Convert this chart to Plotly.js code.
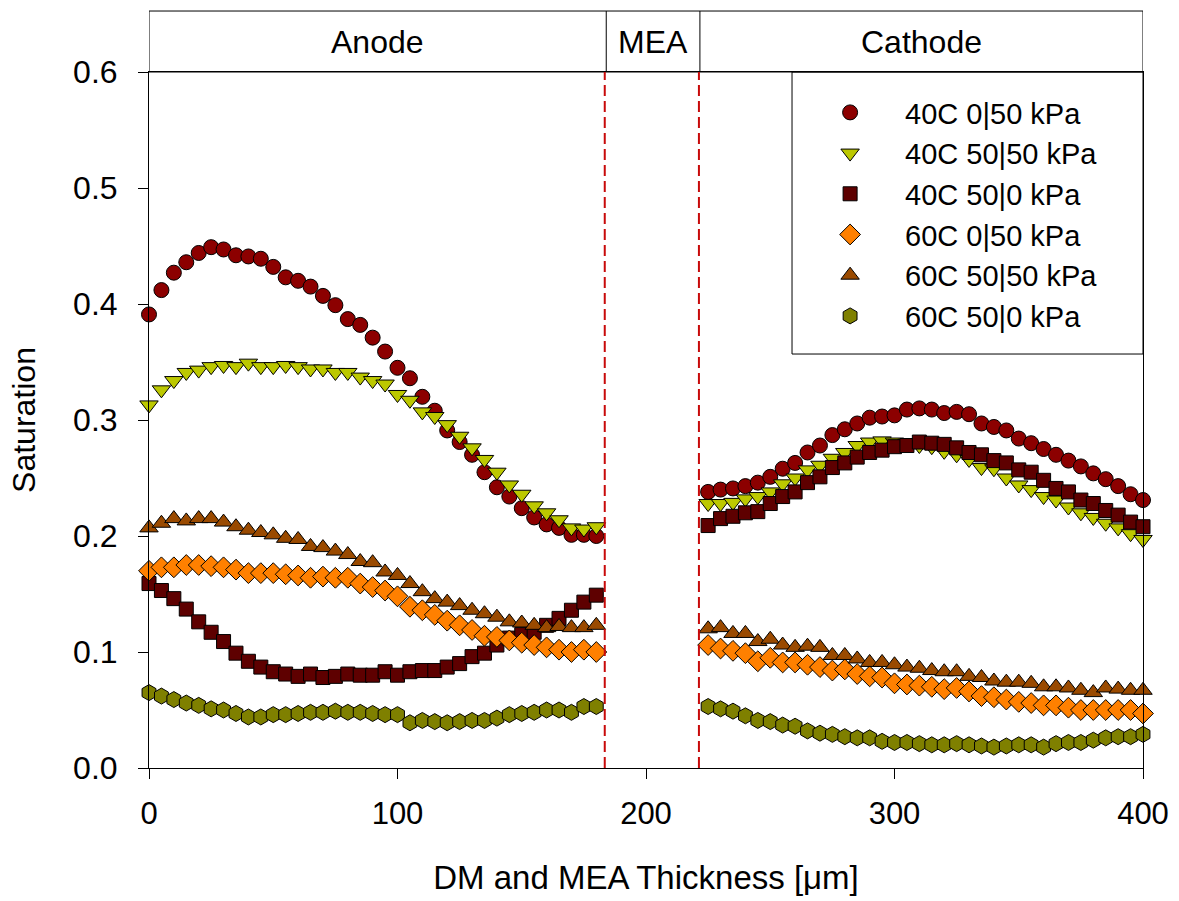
<!DOCTYPE html>
<html>
<head>
<meta charset="utf-8">
<script src="https://cdn.plot.ly/plotly-3.0.1.min.js"></script>
<style>html,body{margin:0;padding:0;background:#fff;}#chart{width:1179px;height:901px;}</style>
</head>
<body>
<div id="chart"></div>
<script>
// ---- data ----
const anodeX = [0,5,10,15,20,25,30,35,40,45,50,55,60,65,70,75,80,85,90,95,100,105,110,115,120,125,130,135,140,145,150,155,160,165,170,175,180];
const cathodeX = [225,230,235,240,245,250,255,260,265,270,275,280,285,290,295,300,305,310,315,320,325,330,335,340,345,350,355,360,365,370,375,380,385,390,395,400];

const seriesNames = ["40C 0|50 kPa","40C 50|50 kPa","40C 50|0 kPa","60C 0|50 kPa","60C 50|50 kPa","60C 50|0 kPa"];

const s40_0_50_anode = [0.391,0.412,0.427,0.436,0.444,0.449,0.447,0.442,0.441,0.439,0.432,0.423,0.420,0.415,0.407,0.399,0.387,0.382,0.371,0.359,0.345,0.336,0.320,0.308,0.291,0.281,0.270,0.255,0.242,0.234,0.224,0.216,0.210,0.207,0.201,0.201,0.200];
const s40_0_50_cathode = [0.238,0.240,0.241,0.243,0.246,0.251,0.258,0.263,0.272,0.278,0.287,0.292,0.297,0.302,0.303,0.304,0.309,0.310,0.309,0.306,0.307,0.305,0.297,0.294,0.291,0.284,0.280,0.275,0.270,0.265,0.260,0.254,0.249,0.243,0.236,0.231];

const s40_50_50_anode = [0.313,0.326,0.334,0.341,0.343,0.346,0.347,0.346,0.349,0.346,0.346,0.347,0.346,0.344,0.344,0.341,0.341,0.337,0.334,0.331,0.322,0.317,0.307,0.303,0.296,0.286,0.276,0.266,0.255,0.244,0.236,0.226,0.220,0.214,0.207,0.206,0.208];
const s40_50_50_cathode = [0.228,0.228,0.229,0.232,0.234,0.238,0.245,0.250,0.257,0.261,0.267,0.272,0.278,0.281,0.282,0.281,0.280,0.278,0.277,0.273,0.270,0.266,0.259,0.258,0.250,0.244,0.240,0.234,0.231,0.225,0.220,0.216,0.211,0.207,0.202,0.197];

const s40_50_0_anode = [0.159,0.153,0.146,0.137,0.126,0.117,0.109,0.099,0.092,0.087,0.083,0.081,0.079,0.081,0.078,0.079,0.081,0.080,0.080,0.083,0.080,0.083,0.084,0.084,0.087,0.090,0.096,0.099,0.106,0.112,0.115,0.117,0.123,0.129,0.136,0.143,0.149];
const s40_50_0_cathode = [0.209,0.215,0.217,0.220,0.221,0.228,0.234,0.238,0.246,0.251,0.259,0.263,0.268,0.272,0.274,0.277,0.278,0.281,0.280,0.279,0.276,0.272,0.270,0.265,0.263,0.257,0.255,0.248,0.241,0.238,0.231,0.228,0.222,0.218,0.212,0.208];

const s60_0_50_anode = [0.170,0.173,0.173,0.175,0.175,0.174,0.173,0.171,0.168,0.168,0.168,0.167,0.166,0.164,0.165,0.164,0.164,0.159,0.156,0.153,0.148,0.139,0.136,0.132,0.127,0.123,0.119,0.114,0.113,0.110,0.108,0.106,0.104,0.102,0.100,0.102,0.100];
const s60_0_50_cathode = [0.106,0.103,0.101,0.099,0.092,0.095,0.091,0.091,0.089,0.087,0.084,0.085,0.081,0.079,0.078,0.073,0.072,0.071,0.070,0.068,0.069,0.066,0.062,0.061,0.059,0.057,0.056,0.054,0.054,0.052,0.050,0.050,0.050,0.050,0.050,0.047];

const s60_50_50_anode = [0.207,0.211,0.215,0.213,0.215,0.215,0.212,0.208,0.205,0.203,0.201,0.198,0.197,0.191,0.190,0.187,0.184,0.178,0.177,0.169,0.166,0.159,0.152,0.146,0.143,0.140,0.136,0.133,0.130,0.126,0.125,0.123,0.121,0.122,0.121,0.121,0.123];
const s60_50_50_cathode = [0.120,0.121,0.116,0.116,0.109,0.111,0.106,0.104,0.105,0.104,0.097,0.097,0.094,0.091,0.091,0.089,0.087,0.086,0.084,0.083,0.083,0.079,0.078,0.075,0.074,0.074,0.073,0.070,0.070,0.069,0.067,0.065,0.069,0.068,0.067,0.067];

const s60_50_0_anode = [0.065,0.062,0.059,0.056,0.054,0.051,0.050,0.047,0.044,0.044,0.046,0.046,0.047,0.048,0.048,0.049,0.048,0.048,0.047,0.046,0.046,0.039,0.041,0.040,0.039,0.040,0.041,0.041,0.043,0.046,0.047,0.048,0.050,0.050,0.048,0.053,0.053];
const s60_50_0_cathode = [0.053,0.051,0.049,0.045,0.041,0.040,0.037,0.036,0.032,0.030,0.029,0.027,0.026,0.026,0.023,0.022,0.022,0.021,0.020,0.020,0.021,0.020,0.019,0.018,0.019,0.020,0.020,0.018,0.021,0.022,0.022,0.024,0.026,0.027,0.027,0.029];

// region labels and boundaries
const regionLabels = ["Anode","MEA","Cathode"];
const regionBounds = [0, 184, 221.7, 400];
const dashedBounds = [183.4, 221.3];

// ---- styles ----
const styles = [
  {symbol:"circle", color:"#8c0000", size:15},
  {symbol:"triangle-down", color:"#bcc800", size:16},
  {symbol:"square", color:"#5e0000", size:14},
  {symbol:"diamond", color:"#ff8000", size:16},
  {symbol:"triangle-up", color:"#9a4a00", size:16},
  {symbol:"hexagon", color:"#7f8000", size:16}
];

const anodeY = [s40_0_50_anode,s40_50_50_anode,s40_50_0_anode,s60_0_50_anode,s60_50_50_anode,s60_50_0_anode];
const cathodeY = [s40_0_50_cathode,s40_50_50_cathode,s40_50_0_cathode,s60_0_50_cathode,s60_50_50_cathode,s60_50_0_cathode];

const FONT = "Liberation Sans, Arial, Helvetica, sans-serif";

const traces = seriesNames.map((name, i) => ({
  type: "scatter",
  mode: "markers",
  name: name,
  legendgroup: "g" + i,
  x: anodeX.concat(cathodeX),
  y: anodeY[i].concat(cathodeY[i]),
  cliponaxis: false,
  marker: {
    symbol: styles[i].symbol,
    color: styles[i].color,
    size: styles[i].size,
    line: {color: "#000", width: 1}
  }
}));

const shapes = [];
// top band
shapes.push({type:"rect", xref:"x", yref:"paper", x0:regionBounds[0], x1:regionBounds[3], y0:1, y1:1.0876, line:{color:"#000", width:1}, fillcolor:"rgba(0,0,0,0)"});
shapes.push({type:"line", xref:"x", yref:"paper", x0:regionBounds[1], x1:regionBounds[1], y0:1, y1:1.0876, line:{color:"#000", width:1}});
shapes.push({type:"line", xref:"x", yref:"paper", x0:regionBounds[2], x1:regionBounds[2], y0:1, y1:1.0876, line:{color:"#000", width:1}});
// dashed boundaries
dashedBounds.forEach(b => shapes.push({type:"line", xref:"x", yref:"paper", x0:b, x1:b, y0:0, y1:1, line:{color:"#c80a0a", width:2, dash:"11px,5px"}}));
// legend box
shapes.push({type:"rect", xref:"paper", yref:"paper", x0:0.6469, x1:1, y0:0.5948, y1:1, line:{color:"#000", width:1}, fillcolor:"rgba(0,0,0,0)", layer:"above"});

const annotations = regionLabels.map((t, i) => ({
  xref:"x", yref:"paper",
  x:(regionBounds[i] + regionBounds[i+1]) / 2, y:1.0438,
  text:t, showarrow:false, xanchor:"center", yanchor:"middle",
  font:{family:FONT, size:32, color:"#000"}
}));

const layout = {
  width:1179, height:901,
  margin:{l:149, r:36, t:72, b:133},
  paper_bgcolor:"#fff", plot_bgcolor:"#fff",
  font:{family:FONT, color:"#000"},
  showlegend:true,
  legend:{
    x:0.650, y:0.9784, xanchor:"left", yanchor:"top",
    bgcolor:"rgba(0,0,0,0)", borderwidth:0,
    font:{family:FONT, size:29, color:"#000"},
    itemwidth:100, tracegroupgap:0
  },
  xaxis:{
    range:[0,400], dtick:100, tick0:0,
    showgrid:false, zeroline:false,
    showline:true, linecolor:"#000", linewidth:1, mirror:true,
    ticks:"outside", ticklen:10, tickcolor:"#000", tickwidth:1,
    ticklabelstandoff:8,
    tickfont:{family:FONT, size:31, color:"#000"},
    title:{text:"DM and MEA Thickness [μm]", font:{family:FONT, size:33, color:"#000"}, standoff:35}
  },
  yaxis:{
    range:[0,0.6], dtick:0.1, tick0:0, tickformat:".1f",
    showgrid:false, zeroline:false,
    showline:true, linecolor:"#000", linewidth:1, mirror:true,
    ticks:"outside", ticklen:10, tickcolor:"#000", tickwidth:1,
    ticklabelstandoff:14,
    tickfont:{family:FONT, size:32, color:"#000"},
    title:{text:"Saturation", font:{family:FONT, size:32, color:"#000"}, standoff:27}
  },
  shapes:shapes,
  annotations:annotations
};

Plotly.newPlot("chart", traces, layout, {displayModeBar:false, staticPlot:true});
</script>
</body>
</html>
